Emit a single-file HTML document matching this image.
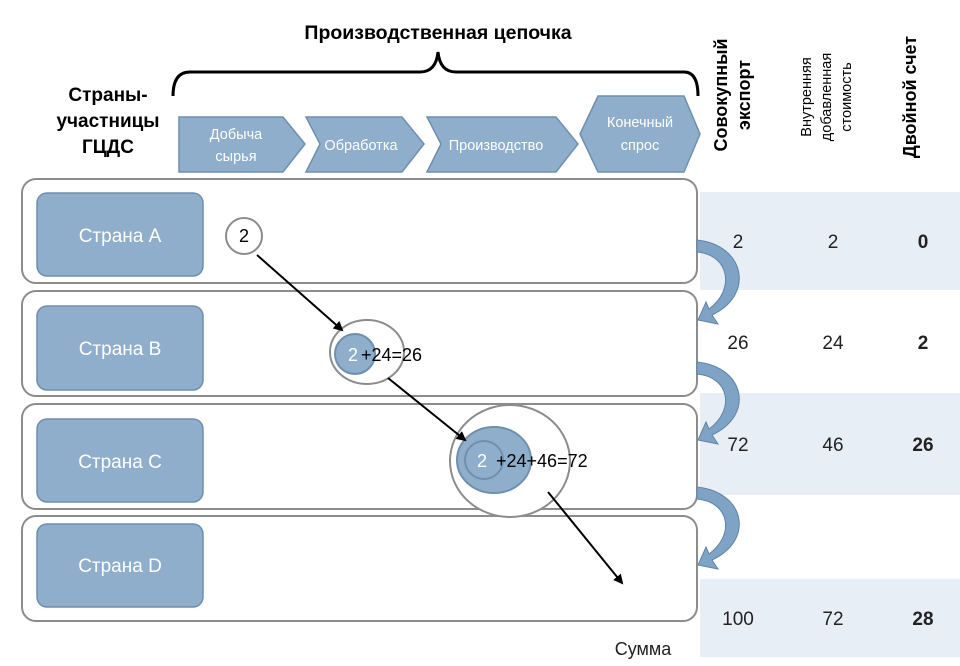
<!DOCTYPE html>
<html><head><meta charset="utf-8"><style>
html,body{margin:0;padding:0;background:#fff}
svg{display:block;font-family:"Liberation Sans",sans-serif}
</style></head><body>
<svg width="960" height="666" viewBox="0 0 960 666" xmlns="http://www.w3.org/2000/svg">
<defs>
<marker id="ah" markerWidth="10" markerHeight="10" refX="8" refY="5" orient="auto" markerUnits="userSpaceOnUse"><path d="M0,0 L10,5 L0,10 z" fill="#000"/></marker>
</defs>
<rect x="700" y="192" width="260" height="98" fill="#e8eef5"/>
<rect x="700" y="393" width="260" height="102" fill="#e8eef5"/>
<rect x="700" y="579" width="260" height="78" fill="#e8eef5"/>
<text x="438" y="39" font-size="19.5" font-weight="bold" text-anchor="middle">Производственная цепочка</text>
<path d="M173,96 Q173,72 190,72 L420,72 Q436,72 438,52 Q440,72 456,72 L684,72 Q698,72 698,96" fill="none" stroke="#000" stroke-width="3"/>
<text x="108" y="101" font-size="19" font-weight="bold" text-anchor="middle">Страны-</text>
<text x="108" y="127" font-size="19" font-weight="bold" text-anchor="middle">участницы</text>
<text x="108" y="153" font-size="19" font-weight="bold" text-anchor="middle">ГЦДС</text>
<g fill="#8eaecb" stroke="#6f8fae" stroke-width="1.5">
<path d="M179,117 L283,117 L305,144 L283,172 L179,172 z"/>
<path d="M306,117 L402,117 L424,144 L402,172 L306,172 L320,144 z"/>
<path d="M427,117 L556,117 L578,144 L556,172 L427,172 L441,144 z"/>
<path d="M598,96 L684,96 L700,134 L684,172 L598,172 L580,134 z"/>
</g>
<g fill="#fff" font-size="14.5" text-anchor="middle">
<text x="236" y="139">Добыча</text><text x="236" y="161">сырья</text>
<text x="361" y="150">Обработка</text>
<text x="496" y="150">Производство</text>
<text x="640" y="127">Конечный</text><text x="640" y="150">спрос</text>
</g>
<g font-weight="bold" font-size="18" text-anchor="middle">
<text transform="translate(727,95) rotate(-90)">Совокупный</text>
<text transform="translate(750,95) rotate(-90)">экспорт</text>
<text transform="translate(916,97) rotate(-90)">Двойной счет</text>
</g>
<g font-size="14.5" text-anchor="middle">
<text transform="translate(811,97) rotate(-90)">Внутренняя</text>
<text transform="translate(831,97) rotate(-90)">добавленная</text>
<text transform="translate(851,97) rotate(-90)">стоимость</text>
</g>
<g fill="#fff" stroke="#8c8c8c" stroke-width="2">
<rect x="22" y="179" width="675" height="104" rx="14"/>
<rect x="22" y="291" width="675" height="105" rx="14"/>
<rect x="22" y="404" width="675" height="105" rx="14"/>
<rect x="22" y="516" width="675" height="105" rx="14"/>
</g>
<g fill="#8eaecb" stroke="#6f8fae" stroke-width="1.5">
<rect x="37" y="193" width="166" height="83" rx="10"/>
<rect x="37" y="306" width="166" height="84" rx="10"/>
<rect x="37" y="419" width="166" height="83" rx="10"/>
<rect x="37" y="524" width="166" height="83" rx="10"/>
</g>
<g fill="#fff" font-size="19" text-anchor="middle">
<text x="120" y="242">Страна A</text>
<text x="120" y="355">Страна B</text>
<text x="120" y="468">Страна C</text>
<text x="120" y="572">Страна D</text>
</g>
<circle cx="244" cy="236" r="18" fill="#fff" stroke="#8c8c8c" stroke-width="2"/>
<text x="244" y="242" font-size="18" text-anchor="middle">2</text>
<ellipse cx="367" cy="352" rx="37" ry="32" fill="#fff" stroke="#8c8c8c" stroke-width="2"/>
<circle cx="355" cy="354" r="20" fill="#8eaecb" stroke="#6f8fae" stroke-width="2"/>
<text x="348" y="361" font-size="18" fill="#fff">2</text>
<text x="361" y="361" font-size="18">+24=26</text>
<ellipse cx="510" cy="461" rx="60" ry="56" fill="#fff" stroke="#8c8c8c" stroke-width="2"/>
<ellipse cx="494" cy="460" rx="37" ry="33" fill="#8eaecb" stroke="#6f8fae" stroke-width="2"/>
<circle cx="484" cy="460" r="19" fill="#8eaecb" stroke="#6f8fae" stroke-width="2"/>
<text x="477" y="467" font-size="18" fill="#fff">2</text>
<text x="496" y="467" font-size="18">+24+46=72</text>
<g stroke="#000" stroke-width="2" marker-end="url(#ah)">
<line x1="257" y1="255" x2="342" y2="330"/>
<line x1="388" y1="378" x2="465" y2="440"/>
<line x1="548" y1="492" x2="622" y2="583"/>
</g>
<g fill="#7fa3c4" stroke="#5f84a6" stroke-width="1">
<path d="M697,240 C745,245 755,295 712,315 L718,324 L698,320 L706,302 L709,309 C735,290 730,255 697,252 z"/>
<path d="M697,362 C745,367 755,415 712,435 L718,444 L698,440 L706,422 L709,429 C735,410 730,377 697,374 z"/>
<path d="M697,487 C745,492 755,540 712,560 L718,569 L698,565 L706,547 L709,554 C735,535 730,502 697,499 z"/>
</g>
<g font-size="19" text-anchor="middle" fill="#222">
<text x="738" y="248">2</text><text x="833" y="248">2</text><text x="923" y="248" font-weight="bold">0</text>
<text x="738" y="349">26</text><text x="833" y="349">24</text><text x="923" y="349" font-weight="bold">2</text>
<text x="738" y="451">72</text><text x="833" y="451">46</text><text x="923" y="451" font-weight="bold">26</text>
<text x="738" y="625">100</text><text x="833" y="625">72</text><text x="923" y="625" font-weight="bold">28</text>
</g>
<text x="643" y="655" font-size="18" text-anchor="middle" fill="#222">Сумма</text>
</svg>
</body></html>
